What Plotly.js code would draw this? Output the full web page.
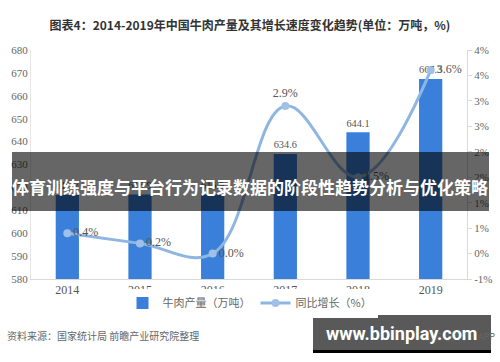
<!DOCTYPE html>
<html>
<head>
<meta charset="utf-8">
<script src="https://cdn.plot.ly/plotly-3.0.1.min.js"></script>
<style>html,body{margin:0;padding:0;background:#fff;}#chart{width:500px;height:362px;}</style>
</head>
<body>
<div id="chart"></div>
<script>
var years = ["2014","2015","2016","2017","2018","2019"];
var output = [616.7, 616.9, 616.9, 634.6, 644.1, 667.3];
var growth = [0.4, 0.2, 0.0, 2.9, 1.5, 3.6];
var growthLabels = ["0.4%","0.2%","0.0%","2.9%","1.5%","3.6%"];
var rightTickVals = [-0.5, 0, 0.5, 1, 1.5, 2, 2.5, 3, 3.5, 4];
var rightTickText = ["-1%","0%","1%","1%","2%","2%","3%","3%","4%","4%"];
var titleText = "图表4：2014-2019年中国牛肉产量及其增长速度变化趋势(单位：万吨，%)";
var sourceText = "资料来源：国家统计局 前瞻产业研究院整理";
var bannerText = "体育训练强度与平台行为记录数据的阶段性趋势分析与优化策略";
var watermarkText = "www.bbinplay.com";

var W = 500, H = 362, L = 31, R = 467, T = 50, B = 279;
function px(x){ return (x - L) / (R - L); }
function py(y){ return (B - y) / (B - T); }

var cjk = "'Noto Sans CJK SC', 'Noto Sans', sans-serif";
var serif = "'Liberation Serif', 'DejaVu Serif', serif";

var bars = {
  type: "bar", x: years, y: output, name: "牛肉产量（万吨）",
  width: 0.32, marker: {color: "rgb(58,128,218)"},
  text: output.map(function(v){return v.toFixed(1);}),
  textposition: "outside", cliponaxis: false,
  textfont: {family: serif, size: 12, color: "#555"}
};
var line = {
  type: "scatter", x: years, y: growth, yaxis: "y2", name: "同比增长（%）",
  mode: "lines+markers+text",
  line: {color: "rgb(143,182,227)", width: 3, shape: "spline", smoothing: 1.1},
  marker: {color: "rgb(160,192,232)", size: 8},
  text: growthLabels,
  textposition: ["middle right","middle right","middle right","top center","middle right","middle right"],
  textfont: {family: serif, size: 12, color: "#555"},
  cliponaxis: false
};

var layout = {
  width: W, height: H,
  margin: {l: L, r: W - R, t: T, b: H - B, autoexpand: false},
  paper_bgcolor: "#fff", plot_bgcolor: "#fff",
  showlegend: true,
  title: {text: "<b>" + titleText + "</b>", font: {family: cjk, size: 12, color: "#333"},
          x: 0.5, xanchor: "center", y: 1 - 26 / H, yanchor: "middle"},
  xaxis: {type: "category", showgrid: false, zeroline: false, showline: true,
          linecolor: "#d9d9d9", linewidth: 1, ticks: "",
          tickfont: {family: serif, size: 12, color: "#555"}},
  yaxis: {range: [580, 680], dtick: 10, showgrid: false, zeroline: false,
          showline: true, linecolor: "#e6e6e6", ticks: "",
          tickfont: {family: serif, size: 11, color: "#666"}},
  yaxis2: {overlaying: "y", side: "right", range: [-0.5, 4.0],
           tickmode: "array", tickvals: rightTickVals, ticktext: rightTickText,
           showgrid: false, zeroline: false, showline: true, linecolor: "#d9d9d9",
           ticks: "outside", ticklen: 4, tickcolor: "#d9d9d9",
           tickfont: {family: serif, size: 11, color: "#666"}},
  legend: {orientation: "h", x: px(250), xanchor: "center", y: py(303), yanchor: "middle",
           font: {family: cjk, size: 11, color: "#666"}, itemwidth: 30},
  shapes: [
    {type: "rect", xref: "paper", yref: "paper", layer: "above",
     x0: px(12), x1: px(489), y0: py(152), y1: py(211),
     fillcolor: "rgba(0,0,0,0.6)", line: {width: 0}},
    {type: "rect", xref: "paper", yref: "paper", layer: "above",
     x0: px(313), x1: px(491), y0: py(315), y1: py(350),
     fillcolor: "rgba(0,0,0,0.65)", line: {width: 0}},
    {type: "rect", xref: "paper", yref: "paper", layer: "above",
     x0: px(313), x1: px(491), y0: py(350), y1: py(353),
     fillcolor: "rgba(0,0,0,1)", line: {width: 0}}
  ],
  annotations: [
    {text: sourceText, xref: "paper", yref: "paper", x: px(5), y: py(335),
     xanchor: "left", yanchor: "middle", showarrow: false,
     font: {family: cjk, size: 10, color: "#666"}},
    {text: "前瞻经济学人APP", xref: "paper", yref: "paper", x: px(497), y: py(336),
     xanchor: "right", yanchor: "middle", showarrow: false,
     font: {family: cjk, size: 9, color: "#666"}},
    {text: "<b>" + bannerText + "</b>", xref: "paper", yref: "paper", x: px(250), y: py(186),
     xanchor: "center", yanchor: "middle", showarrow: false,
     font: {family: cjk, size: 17, color: "#fff"}},
    {text: "<b>" + watermarkText + "</b>", xref: "paper", yref: "paper", x: px(401), y: py(333),
     xanchor: "center", yanchor: "middle", showarrow: false,
     font: {family: "Roboto, 'DejaVu Sans', sans-serif", size: 18, color: "#fff"}}
  ]
};

Plotly.newPlot("chart", [bars, line], layout, {displayModeBar: false, staticPlot: true});
</script>
</body>
</html>
